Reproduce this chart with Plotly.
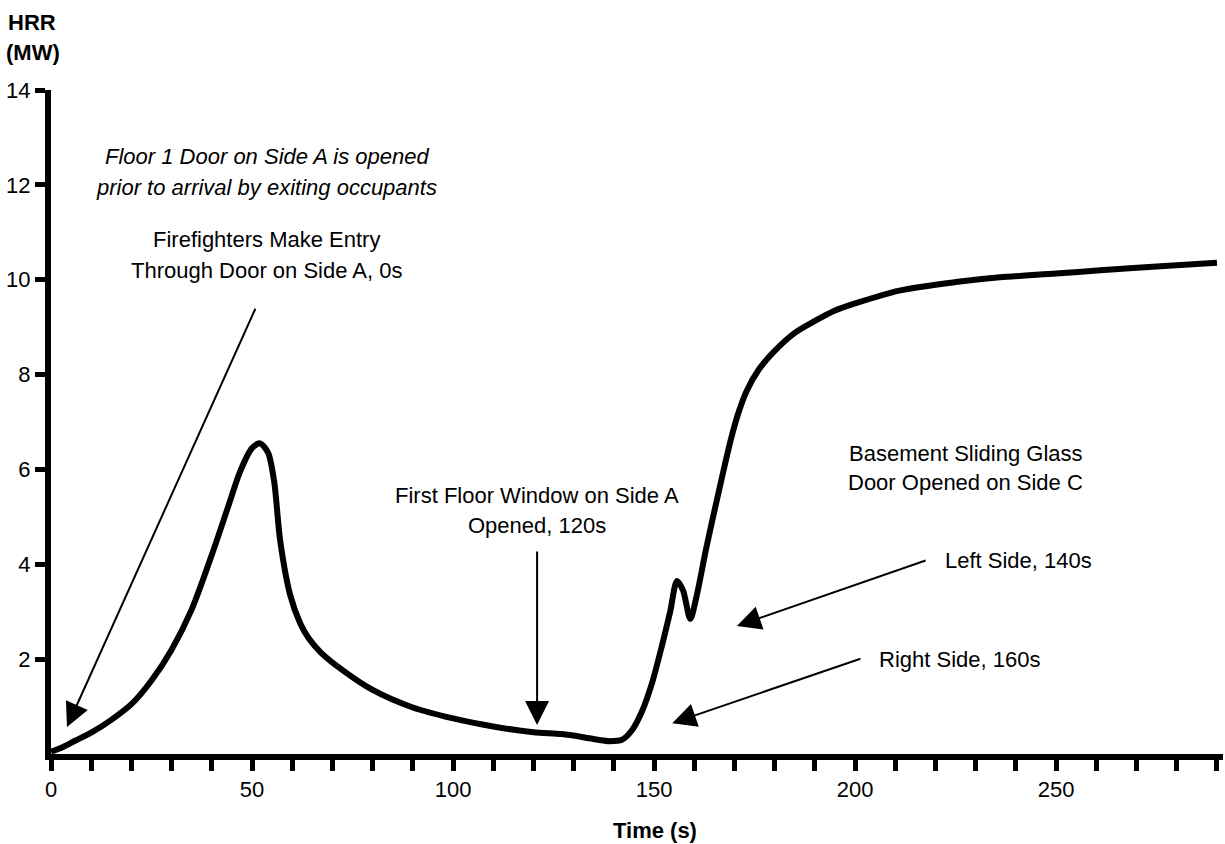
import plotly.graph_objects as go

# ---- data ----
time_s = [0, 3, 6, 10, 15, 20, 25, 30, 35, 40, 44, 47, 50, 52, 54, 55.5, 57, 59.5, 62, 64, 67, 72,
          80, 90, 100, 110, 120, 127, 132, 136, 139, 142, 144.5, 147, 149.5, 152, 154, 155.7, 157.2,
          159, 160.5, 163, 166, 169, 171, 173, 176, 180, 185, 190, 195, 200, 211, 225, 236, 250, 261,
          275, 290]
hrr_mw = [0.05, 0.15, 0.28, 0.45, 0.72, 1.05, 1.55, 2.2, 3.05, 4.2, 5.2, 5.95, 6.45, 6.55, 6.35, 5.75,
          4.5, 3.35, 2.75, 2.45, 2.15, 1.8, 1.35, 0.98, 0.75, 0.58, 0.46, 0.42, 0.36, 0.3, 0.27, 0.3,
          0.5, 0.9, 1.5, 2.3, 3.0, 3.65, 3.45, 2.85, 3.3, 4.35, 5.5, 6.6, 7.2, 7.65, 8.1, 8.5, 8.88,
          9.13, 9.35, 9.5, 9.77, 9.95, 10.05, 10.13, 10.2, 10.28, 10.36]

x_tick_vals = [0, 50, 100, 150, 200, 250]
y_tick_vals = [2, 4, 6, 8, 10, 12, 14]

# text labels: (text, x, y, anchor, italic)
labels = [
    ("Floor 1 Door on Side A is opened", 53.7, 12.59, "center", True),
    ("prior to arrival by exiting occupants", 53.7, 11.95, "center", True),
    ("Firefighters Make Entry", 53.7, 10.84, "center", False),
    ("Through Door on Side A, 0s", 53.7, 10.20, "center", False),
    ("First Floor Window on Side A", 120.9, 5.46, "center", False),
    ("Opened, 120s", 120.9, 4.81, "center", False),
    ("Basement Sliding Glass", 227.5, 6.33, "center", False),
    ("Door Opened on Side C", 227.5, 5.72, "center", False),
    ("Left Side, 140s", 221.9, 4.07, "left", False),
    ("Right Side, 160s", 205.5, 2.00, "left", False),
]

# arrows: (tip_x, tip_y, tail_x, tail_y)
arrows = [
    (3.98, 0.57, 51.0, 9.42),
    (120.9, 0.61, 120.9, 4.30),
    (170.6, 2.70, 217.9, 4.09),
    (154.5, 0.65, 201.7, 2.02),
]

FONT = "Liberation Sans Narrow, Arial Narrow, Liberation Sans, Arial, sans-serif"

fig = go.Figure()
fig.add_trace(go.Scatter(
    x=time_s, y=hrr_mw, mode="lines",
    line=dict(color="black", width=6, shape="spline", smoothing=0.8),
    showlegend=False, hoverinfo="skip", cliponaxis=False,
))

annotations = []
for text, x, y, anchor, italic in labels:
    annotations.append(dict(
        text=f"<i>{text}</i>" if italic else text, x=x, y=y, xref="x", yref="y",
        xanchor=anchor, yanchor="middle", showarrow=False,
        font=dict(family=FONT, size=22, color="black"),
    ))
for tx, ty, ax, ay in arrows:
    annotations.append(dict(
        text="", x=tx, y=ty, xref="x", yref="y", ax=ax, ay=ay, axref="x", ayref="y",
        showarrow=True, arrowhead=2, arrowsize=2.4, arrowwidth=2, arrowcolor="black", standoff=0,
    ))
annotations += [
    dict(text="<b>HRR</b>", x=-0.0162, y=1.1024, xref="paper", yref="paper", showarrow=False,
         xanchor="center", yanchor="middle", font=dict(family=FONT, size=22, color="black")),
    dict(text="<b>(MW)</b>", x=-0.0154, y=1.0572, xref="paper", yref="paper", showarrow=False,
         xanchor="center", yanchor="middle", font=dict(family=FONT, size=22, color="black")),
    dict(text="<b>Time (s)</b>", x=0.515, y=-0.1145, xref="paper", yref="paper", showarrow=False,
         xanchor="center", yanchor="middle", font=dict(family=FONT, size=22, color="black")),
]

fig.update_layout(
    width=1225, height=844,
    margin=dict(l=51, r=2, t=90, b=90),
    plot_bgcolor="white", paper_bgcolor="white",
    font=dict(family=FONT, size=22, color="black"),
    annotations=annotations,
    xaxis=dict(
        range=[0, 291.5], showgrid=False, zeroline=False,
        showline=True, linewidth=6, linecolor="black",
        tickmode="array", tickvals=x_tick_vals, ticktext=[str(v) for v in x_tick_vals],
        ticks="outside", ticklen=11, tickwidth=5, tickcolor="black",
        minor=dict(dtick=10, tick0=0, ticks="outside", ticklen=11, tickwidth=5, tickcolor="black"),
        tickfont=dict(family=FONT, size=22, color="black"),
    ),
    yaxis=dict(
        range=[0, 14], showgrid=False, zeroline=False,
        showline=True, linewidth=6, linecolor="black",
        tickmode="array", tickvals=y_tick_vals, ticktext=[str(v) for v in y_tick_vals],
        ticks="outside", ticklen=10, tickwidth=5, tickcolor="black",
        tickfont=dict(family=FONT, size=22, color="black"),
    ),
)

fig.write_html("out.html", config={"displayModeBar": False},
               post_script="document.body.style.margin='0';document.body.style.overflow='hidden';")
